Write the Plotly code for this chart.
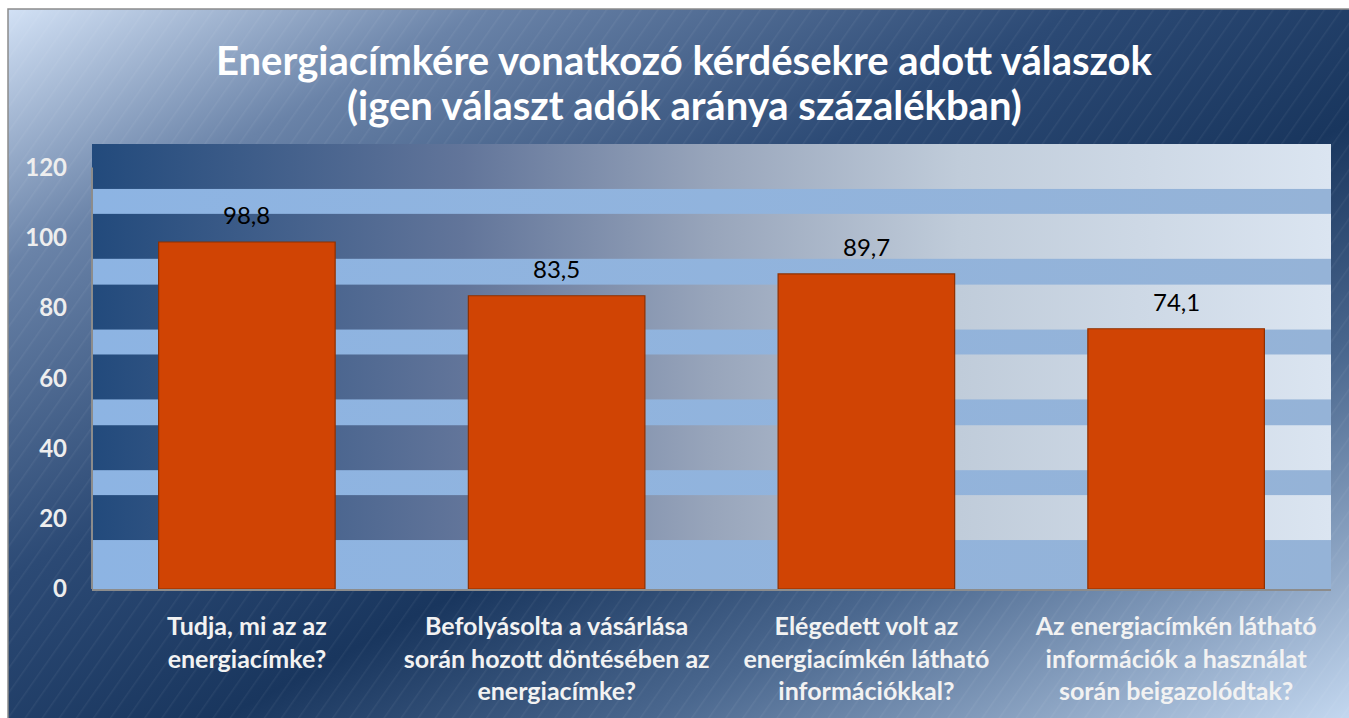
import base64
import plotly.graph_objects as go

# ---- data ----
categories = [
    "Tudja, mi az az<br>energiacímke?",
    "Befolyásolta a vásárlása<br>során hozott döntésében az<br>energiacímke?",
    "Elégedett volt az<br>energiacímkén látható<br>információkkal?",
    "Az energiacímkén látható<br>információk a használat<br>során beigazolódtak?",
]
values = [98.8, 83.5, 89.7, 74.1]
y_ticks = [0, 20, 40, 60, 80, 100, 120]
title_lines = [
    "Energiacímkére vonatkozó kérdésekre adott válaszok",
    "(igen választ adók aránya százalékban)",
]

# ---- layout geometry ----
W, H = 1349, 718
ML, MR, MT, MB = 92, 18, 144, 129
PW, PH = W - ML - MR, H - MT - MB
FRAME_X, FRAME_Y = 8, 9


def svg_uri(svg):
    return "data:image/svg+xml;base64," + base64.b64encode(svg.encode("utf-8")).decode("ascii")


# outer chart-area gradient
fw, fh = W - FRAME_X, H - FRAME_Y
bg_svg = f'''<svg xmlns="http://www.w3.org/2000/svg" width="{fw}" height="{fh}" viewBox="0 0 {fw} {fh}" preserveAspectRatio="none">
<defs>
<linearGradient id="g" x1="0" y1="0" x2="1" y2="1">
<stop offset="0" stop-color="#d2e1f5"/>
<stop offset="0.18" stop-color="#6a83a8"/>
<stop offset="0.40" stop-color="#2c4a75"/>
<stop offset="0.58" stop-color="#19365e"/>
<stop offset="0.74" stop-color="#4a678e"/>
<stop offset="1" stop-color="#c3d7ef"/>
</linearGradient>
<pattern id="h" width="14" height="14" patternUnits="userSpaceOnUse" patternTransform="rotate(35)">
<line x1="0" y1="0" x2="0" y2="14" stroke="#ffffff" stroke-opacity="0.05" stroke-width="3"/>
</pattern>
</defs>
<rect x="0" y="0" width="{fw}" height="{fh}" fill="url(#g)"/>
<rect x="0" y="0" width="{fw}" height="{fh}" fill="url(#h)"/>
</svg>'''

# plot-area gradient with light horizontal stripes (decorative texture)
stripes = [(0.101, 0.157), (0.258, 0.316), (0.417, 0.473), (0.574, 0.632), (0.733, 0.789), (0.890, 1.0)]
sw, sh = 1000, 1000
stripe_rects = "".join(
    f'<rect x="0" y="{a*sh:.1f}" width="{sw}" height="{(b-a)*sh:.1f}" fill="url(#s)"/>' for a, b in stripes
)
pa_svg = f'''<svg xmlns="http://www.w3.org/2000/svg" width="{sw}" height="{sh}" viewBox="0 0 {sw} {sh}" preserveAspectRatio="none">
<defs>
<linearGradient id="p" x1="0" y1="0" x2="1" y2="0">
<stop offset="0" stop-color="#224a7c"/>
<stop offset="0.3" stop-color="#62759a"/>
<stop offset="0.5" stop-color="#98a5bb"/>
<stop offset="0.7" stop-color="#c0ccda"/>
<stop offset="1" stop-color="#dbe5f1"/>
</linearGradient>
<linearGradient id="s" x1="0" y1="0" x2="1" y2="0">
<stop offset="0" stop-color="#8db4e3"/>
<stop offset="1" stop-color="#95b3d7"/>
</linearGradient>
</defs>
<rect x="0" y="0" width="{sw}" height="{sh}" fill="url(#p)"/>
{stripe_rects}
</svg>'''


def px_to_paper_x(px):
    return (px - ML) / PW


def px_to_paper_y(py):
    return (H - MB - py) / PH


fig = go.Figure()
fig.add_trace(go.Bar(
    x=categories,
    y=values,
    marker=dict(color="#d04404", line=dict(color="#8e3000", width=1.2)),
    hoverinfo="x+y",
))

for c, v in zip(categories, values):
    fig.add_annotation(
        x=c, y=v, xref="x", yref="y",
        text=f"{v:.1f}".replace(".", ","),
        showarrow=False, yanchor="middle", yshift=27,
        font=dict(family="Lato", size=24, color="#000000"),
    )

for line, py in zip(title_lines, [60, 105]):
    fig.add_annotation(
        x=px_to_paper_x(684), y=px_to_paper_y(py), xref="paper", yref="paper",
        xanchor="center", yanchor="middle", showarrow=False,
        text="<b>" + line + "</b>",
        font=dict(family="Lato", size=40, color="#ffffff"),
    )

fig.add_layout_image(
    source=svg_uri(bg_svg), xref="paper", yref="paper",
    x=px_to_paper_x(FRAME_X), y=px_to_paper_y(FRAME_Y),
    sizex=px_to_paper_x(W) - px_to_paper_x(FRAME_X),
    sizey=px_to_paper_y(FRAME_Y) - px_to_paper_y(H),
    sizing="stretch", xanchor="left", yanchor="top", layer="below",
)
fig.add_layout_image(
    source=svg_uri(pa_svg), xref="paper", yref="paper",
    x=0, y=1, sizex=1, sizey=1,
    sizing="stretch", xanchor="left", yanchor="top", layer="below",
)

# frame border and y-axis line (0..120)
fig.add_shape(type="rect", xref="paper", yref="paper",
              x0=px_to_paper_x(FRAME_X), x1=px_to_paper_x(W + 5),
              y0=px_to_paper_y(H + 5), y1=px_to_paper_y(FRAME_Y),
              line=dict(color="#8c8c8c", width=1.5), fillcolor="rgba(0,0,0,0)", layer="above")
fig.add_shape(type="line", xref="paper", yref="y", x0=0, x1=0, y0=0, y1=y_ticks[-1],
              line=dict(color="#8c8c8c", width=2), layer="above")

fig.update_layout(
    width=W, height=H,
    margin=dict(l=ML, r=MR, t=MT, b=MB),
    paper_bgcolor="#ffffff",
    plot_bgcolor="rgba(0,0,0,0)",
    bargap=0.43,
    showlegend=False,
    font=dict(family="Lato"),
    xaxis=dict(
        showgrid=False, zeroline=False,
        showline=True, linecolor="#8c8c8c", linewidth=2,
        ticks="", ticklabelstandoff=14,
        tickfont=dict(family="Lato", size=25, color="#f2f2f2", weight="bold"),
    ),
    yaxis=dict(
        range=[0, 126.7], tickvals=y_ticks, ticktext=[str(t) for t in y_ticks],
        showgrid=False, zeroline=False, showline=False,
        ticks="", ticklabelstandoff=24,
        tickfont=dict(family="Lato", size=24, color="#eeeeee", weight="bold"),
    ),
)

fig.write_html("out.html")
